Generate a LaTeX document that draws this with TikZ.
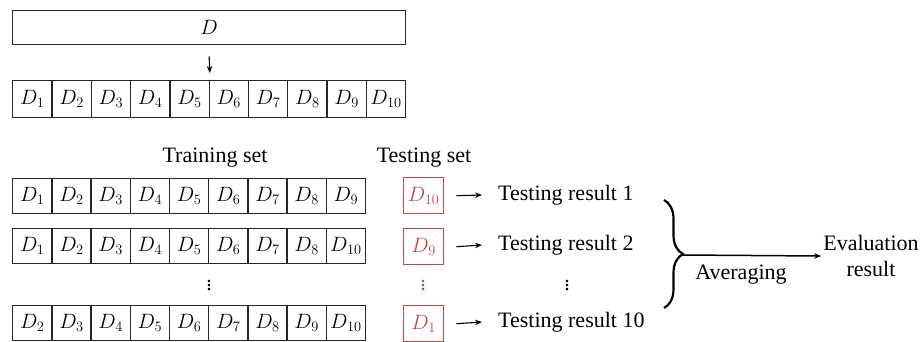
\documentclass[tikz,border=0pt]{standalone}
\usepackage{fontspec}
\setmainfont{Liberation Serif}
\usetikzlibrary{arrows.meta,decorations.pathreplacing}
\definecolor{redbox}{RGB}{200,70,70}
\begin{document}
\begin{tikzpicture}[x=1pt,y=-1pt,
 big/.style={font=\fontsize{22}{26}\selectfont},
 cell/.style={big,draw=black!85,line width=1.3pt,minimum width=39.3pt,minimum height=36pt,inner sep=0pt,anchor=north west},
 redcell/.style={big,draw=redbox,text=redbox,line width=1.4pt,minimum width=40pt,minimum height=36pt,inner sep=0pt,anchor=north west},
 lbl/.style={big,inner sep=0pt},
 dots/.style={font=\fontsize{22}{26}\selectfont,inner sep=0pt},
 arr/.style={-{Stealth[length=7pt,width=5.5pt]},line width=1.1pt}]
\useasboundingbox (0,0) rectangle (922,341);
% full data set
\node[cell,minimum width=393pt,minimum height=34pt] (D) at (12,10) {$D$};
% split row
\foreach \i in {1,...,10} {\node[cell,minimum height=37pt] (r0c\i) at ({12+(\i-1)*39.3},80) {$D_{\i}$};}
\draw[arr] ([yshift=-11pt]D.south) -- ([yshift=7pt]r0c5.north east);
% headings
\node[lbl] (train) at (215,158) {Training set};
\node[lbl] (test) at (424,158) {Testing set};
% fold rows
\foreach \lab [count=\i] in {1,...,9} {\node[cell,minimum height=35pt] (r1c\i) at ({12+(\i-1)*39.2},178) {$D_{\lab}$};}
\foreach \lab [count=\i] in {1,2,3,4,5,6,7,8,10} {\node[cell,minimum height=35pt] (r2c\i) at ({12+(\i-1)*39.2},228) {$D_{\lab}$};}
\foreach \lab [count=\i] in {2,3,4,5,6,7,8,9,10} {\node[cell,minimum height=35pt] (r3c\i) at ({12+(\i-1)*39.2},305) {$D_{\lab}$};}
\node[redcell] (t1) at (403,177) {$D_{10}$};
\node[redcell] (t2) at (403,228) {$D_{9}$};
\node[redcell] (t3) at (403,305) {$D_{1}$};
% dots
\node[dots] (d1) at (209,283) {$\vdots$};
\node[dots,text=redbox] (d2) at (423,283) {$\vdots$};
\node[dots] (d3) at (567,283) {$\vdots$};
% results
\node[lbl,anchor=west] (res1) at (498,195) {Testing result 1};
\node[lbl,anchor=west] (res2) at (498,245) {Testing result 2};
\node[lbl,anchor=west] (res3) at (498,322) {Testing result 10};
\draw[arr] ([xshift=12pt]t1.east) -- ([xshift=-16pt]res1.west);
\draw[arr] ([xshift=12pt]t2.east) -- ([xshift=-16pt]res2.west);
\draw[arr] ([xshift=12pt]t3.east) -- ([xshift=-16pt]res3.west);
% brace and evaluation
\draw[decorate,decoration={brace,amplitude=19pt},line width=2.2pt] (664,200) -- (664,308);
\coordinate (tip) at (683,255);
\node[lbl,align=center] (eval) at (871,256) {Evaluation\\result};
\node[lbl] (avg) at (741,275) {Averaging};
\draw[arr,line width=1.5pt] (tip) -- ([xshift=-2pt]eval.west);
\end{tikzpicture}
\end{document}
